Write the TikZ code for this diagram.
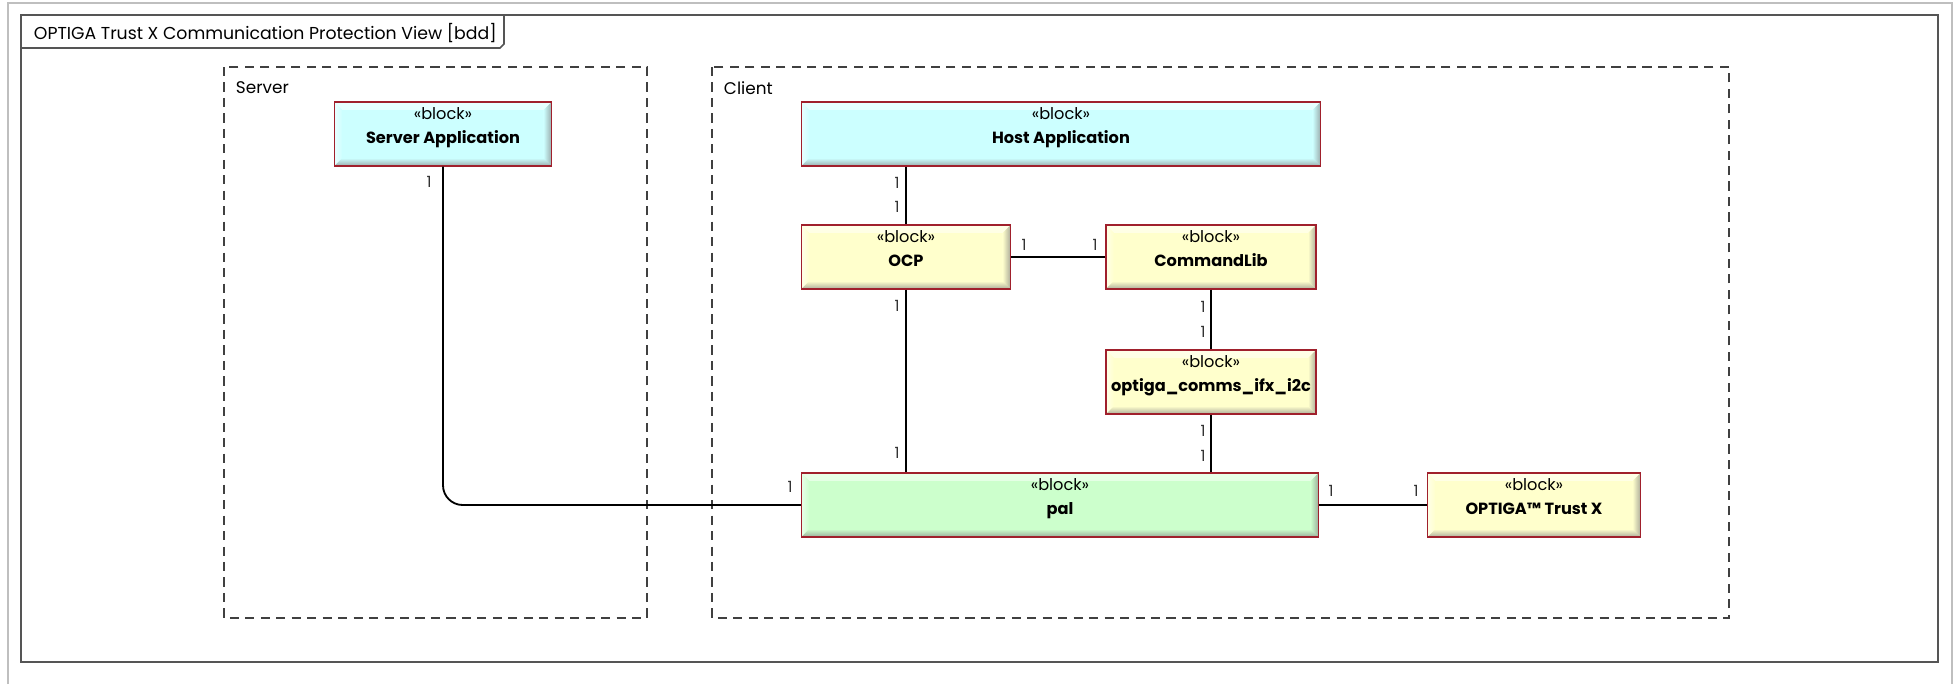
\documentclass[tikz,border=0pt]{standalone}
\usepackage{fontspec}
\setmainfont{Poppins}
\usetikzlibrary{calc}

\definecolor{blockred}{RGB}{160,32,44}
\definecolor{appcyan}{RGB}{204,255,255}
\definecolor{libyellow}{RGB}{255,255,204}
\definecolor{palgreen}{RGB}{204,255,204}
\definecolor{framegray}{RGB}{85,85,85}

\begin{document}
\begin{tikzpicture}[x=0.025cm, y=-0.025cm,
  block/.style={draw=blockred, line width=0.9pt, fill=#1, align=center,
    minimum height=1.6cm, inner sep=0pt, text depth=12pt,
    font=\fontsize{11.5}{13}\selectfont,
    path picture={
      \shade[top color=white!55!#1, bottom color=#1]
        (path picture bounding box.north west) -- (path picture bounding box.north east)
        -- ([shift={(-0.2cm,-0.2cm)}]path picture bounding box.north east)
        -- ([shift={(0.2cm,-0.2cm)}]path picture bounding box.north west) -- cycle;
      \shade[left color=white!55!#1, right color=#1]
        (path picture bounding box.north west) -- (path picture bounding box.south west)
        -- ([shift={(0.2cm,0.2cm)}]path picture bounding box.south west)
        -- ([shift={(0.2cm,-0.2cm)}]path picture bounding box.north west) -- cycle;
      \shade[top color=#1, bottom color=#1!35!gray]
        (path picture bounding box.south west) -- (path picture bounding box.south east)
        -- ([shift={(-0.2cm,0.2cm)}]path picture bounding box.south east)
        -- ([shift={(0.2cm,0.2cm)}]path picture bounding box.south west) -- cycle;
      \shade[left color=#1, right color=#1!35!gray]
        (path picture bounding box.south east) -- (path picture bounding box.north east)
        -- ([shift={(-0.2cm,-0.2cm)}]path picture bounding box.north east)
        -- ([shift={(-0.2cm,0.2cm)}]path picture bounding box.south east) -- cycle;
    }},
  conn/.style={line width=1.3pt},
  mult/.style={font=\fontsize{11}{12}\selectfont, text=black!80, inner sep=0pt},
  region/.style={draw=black!75, line width=0.9pt, dash pattern=on 6.5pt off 4.5pt},
]

\useasboundingbox (0,0) rectangle (1959,684);

% Rahmen
\draw[black!25, line width=1pt] (8,684) -- (8,3) -- (1952,3) -- (1952,684);
\draw[framegray, line width=1.1pt] (21,15) rectangle (1938,662);
\draw[framegray, line width=1.1pt] (21,48) -- (500,48) -- (504,44) -- (504,15);
\node[anchor=west, font=\fontsize{12.3}{14}\selectfont] (title) at (29,33)
{OPTIGA Trust X Communication Protection View [bdd]};

% Bereiche
\draw[region] (224,67) rectangle (647,618);
\draw[region] (712,67) rectangle (1729,618);
\node[anchor=west, font=\fontsize{12}{14}\selectfont] (server) at (231,88) {Server};
\node[anchor=west, font=\fontsize{12}{14}\selectfont] (client) at (719,88) {Client};

% Bloecke
\node[block=appcyan, minimum width=5.425cm] (sa) at (443,134)
{«block»\\[4pt]\textbf{Server Application}};
\node[block=appcyan, minimum width=12.975cm] (host) at (1061,134)
{«block»\\[4pt]\textbf{Host Application}};
\node[block=libyellow, minimum width=5.225cm] (ocp) at (906,257)
{«block»\\[4pt]\textbf{OCP}};
\node[block=libyellow, minimum width=5.25cm] (cl) at (1211,257)
{«block»\\[4pt]\textbf{CommandLib}};
\node[block=libyellow, minimum width=5.25cm] (i2c) at (1211,382)
{«block»\\[4pt]\textbf{optiga\_comms\_ifx\_i2c}};
\node[block=palgreen, minimum width=12.925cm] (pal) at (1060,505)
{«block»\\[4pt]\textbf{pal}};
\node[block=libyellow, minimum width=5.325cm] (tx) at (1534,505)
{«block»\\[4pt]\textbf{OPTIGA™ Trust X}};

% Verbindungen
\draw[conn, rounded corners=14pt] (sa.south) |- (pal.west);
\draw[conn] (ocp.north |- host.south) -- (ocp.north);
\draw[conn] (ocp.east) -- (cl.west);
\draw[conn] (ocp.south) -- (ocp.south |- pal.north);
\draw[conn] (cl.south) -- (i2c.north);
\draw[conn] (i2c.south) -- (i2c.south |- pal.north);
\draw[conn] (pal.east) -- (tx.west);

% Multiplizitaeten
\node[mult] (m-sa) at (429,182) {1};
\node[mult] (m-sa-pal) at (790,487) {1};
\node[mult] (m-host) at (897,183) {1};
\node[mult] (m-ocp-top) at (897,207) {1};
\node[mult] (m-ocp-right) at (1024,245) {1};
\node[mult] (m-cl-left) at (1095,245) {1};
\node[mult] (m-ocp-bottom) at (897,306) {1};
\node[mult] (m-pal-ocp) at (897,453) {1};
\node[mult] (m-cl-bottom) at (1203,307) {1};
\node[mult] (m-i2c-top) at (1203,332) {1};
\node[mult] (m-i2c-bottom) at (1203,431) {1};
\node[mult] (m-pal-i2c) at (1203,456) {1};
\node[mult] (m-pal-right) at (1331,491) {1};
\node[mult] (m-tx) at (1416,491) {1};

\end{tikzpicture}
\end{document}
